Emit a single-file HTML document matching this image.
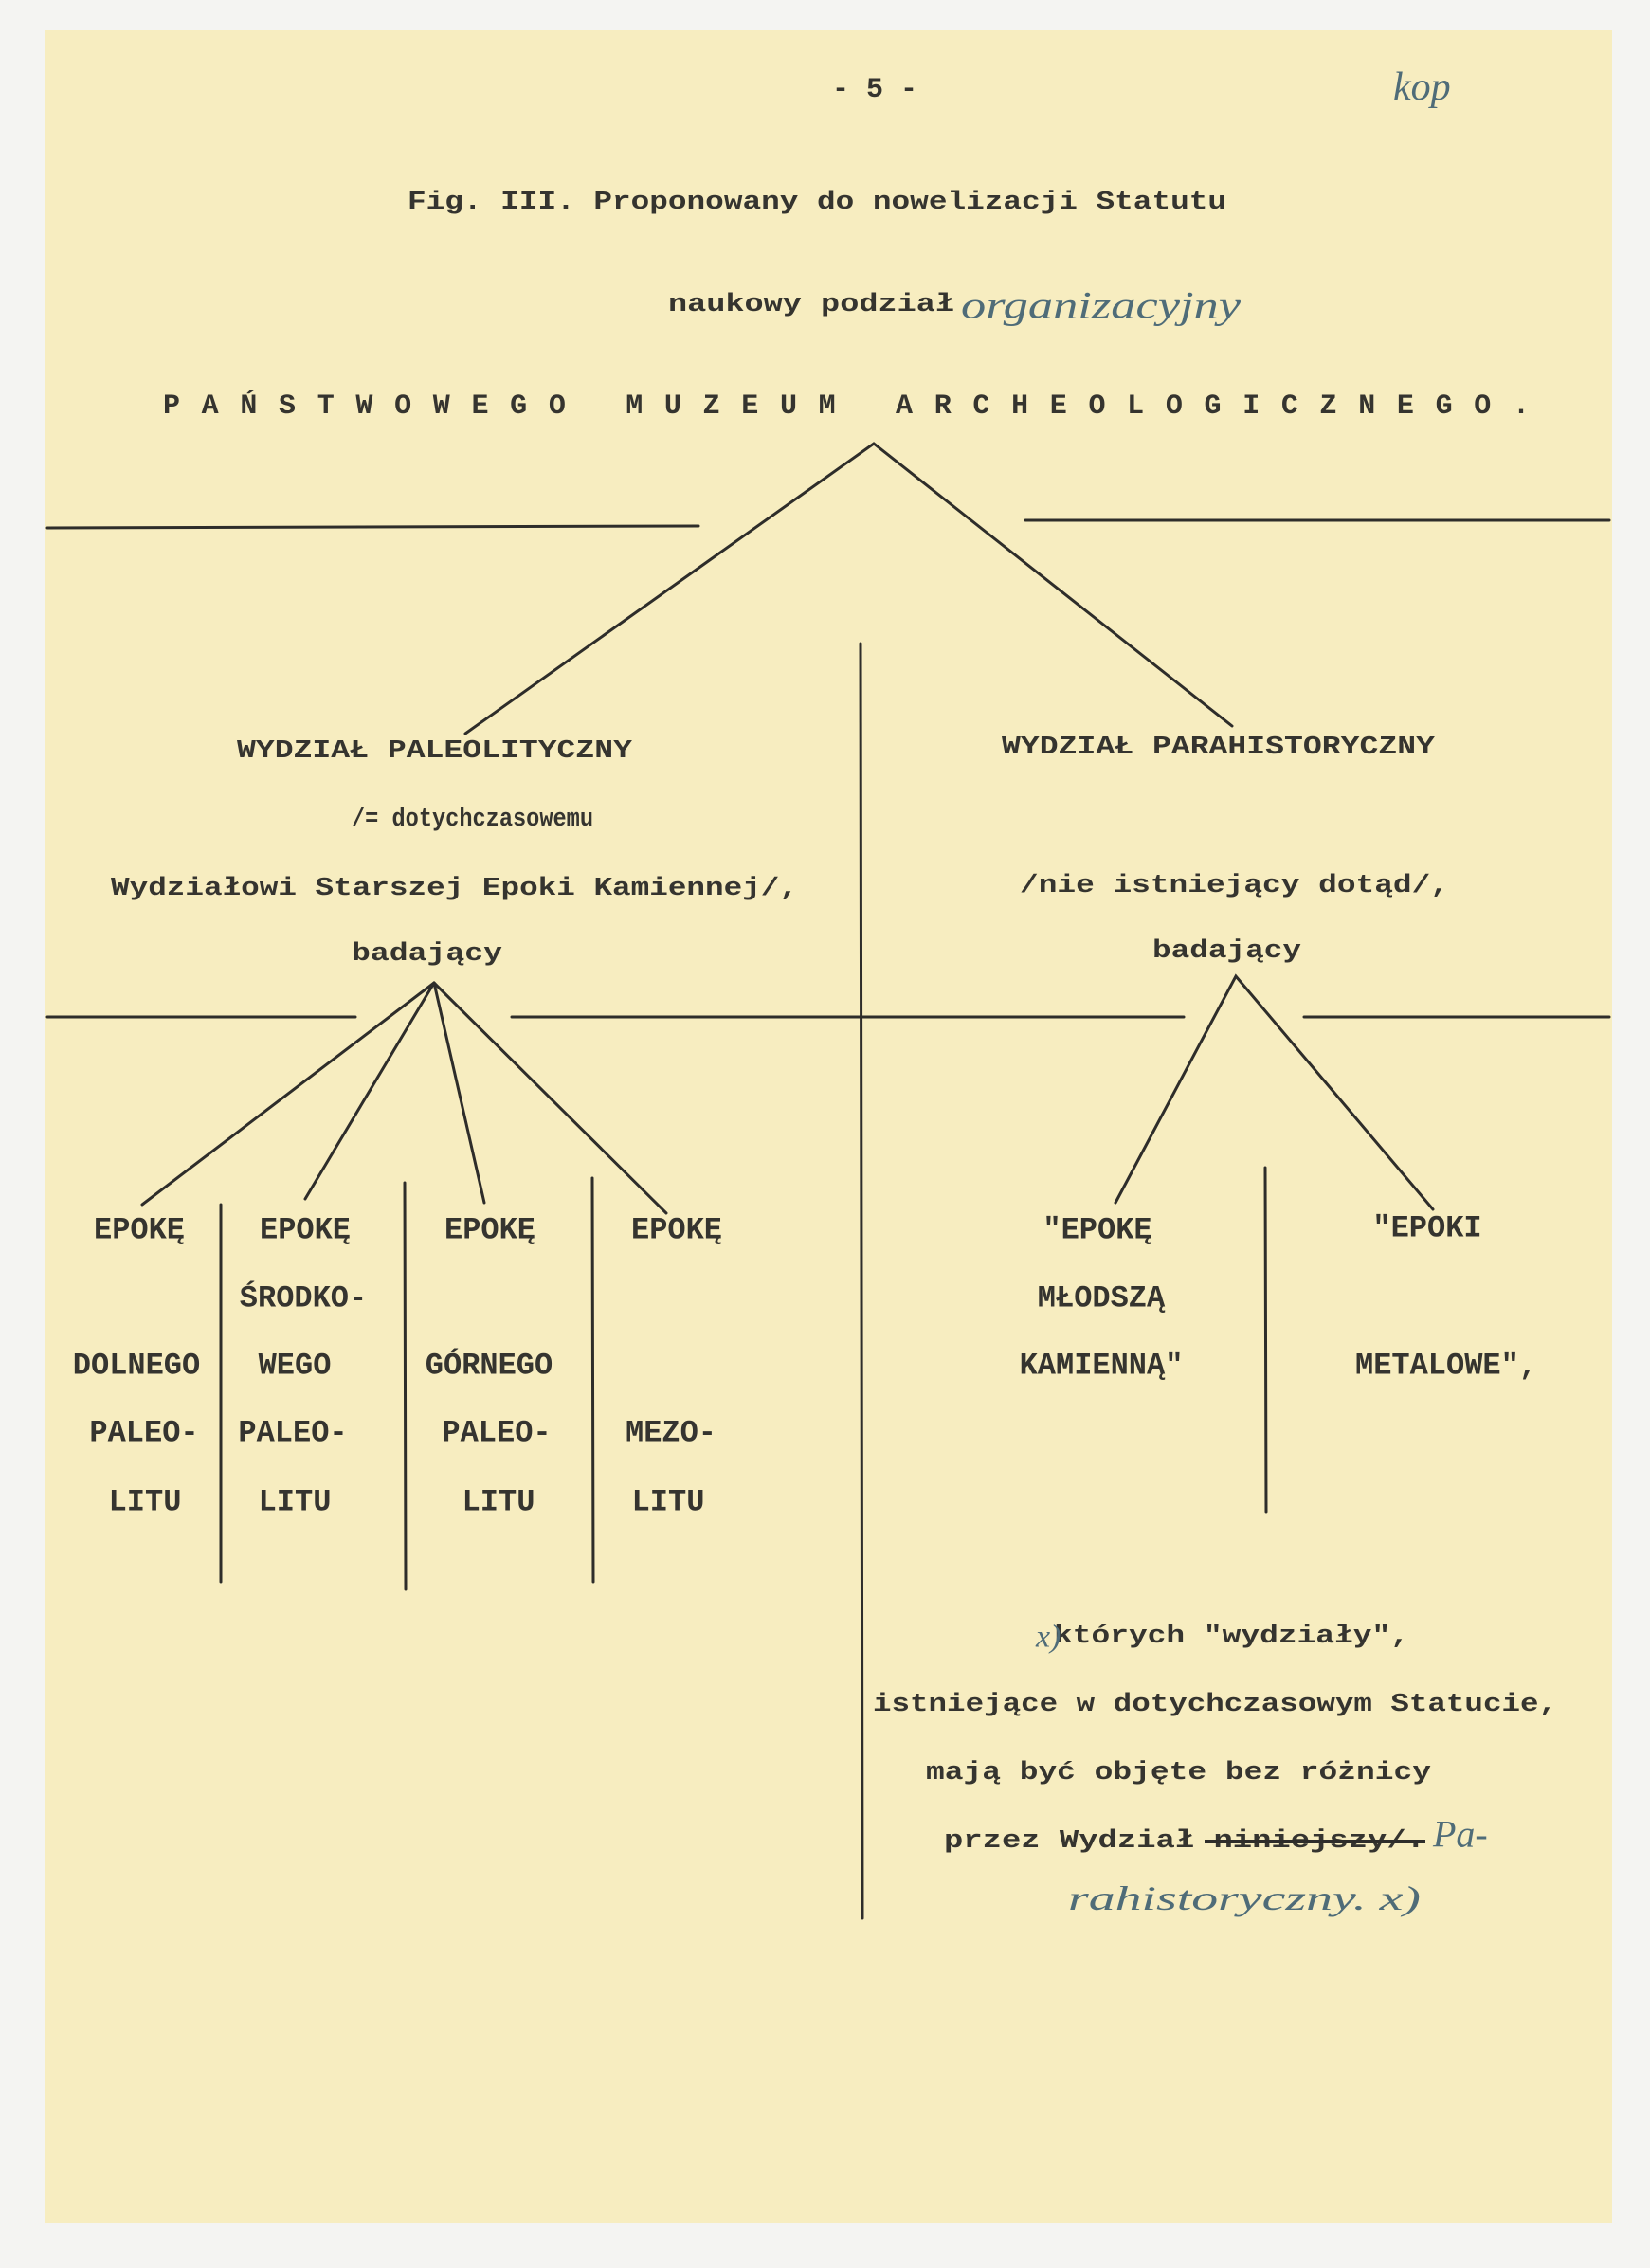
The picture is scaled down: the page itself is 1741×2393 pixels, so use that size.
<!DOCTYPE html>
<html><head><meta charset="utf-8"><style>
html,body{margin:0;padding:0;background:#f3f3f1;}
svg{display:block;}
.t{font-family:"Liberation Mono",monospace;font-weight:bold;fill:#35342f;dominant-baseline:central;}
.h{font-family:"Liberation Serif",serif;font-style:italic;fill:#4f6c78;dominant-baseline:central;}
</style></head><body>
<svg width="1741" height="2393" viewBox="0 0 1741 2393" xmlns="http://www.w3.org/2000/svg">
<rect x="0" y="0" width="1741" height="2393" fill="#f4f4f2"/>
<rect x="48" y="32" width="1653" height="2313" fill="#f7edc0"/>
<g stroke="#2e2d2a" stroke-width="3" fill="none" stroke-linecap="round">
<polyline points="491,774 922,468 1300,766"/>
<line x1="50" y1="557" x2="737" y2="555"/>
<line x1="1082" y1="549" x2="1698" y2="549"/>
<line x1="908" y1="679" x2="910" y2="2024"/>
<line x1="50" y1="1073" x2="375" y2="1073"/>
<line x1="540" y1="1073" x2="1249" y2="1073"/>
<line x1="1376" y1="1073" x2="1698" y2="1073"/>
<line x1="458" y1="1037" x2="150" y2="1271"/>
<line x1="458" y1="1037" x2="322" y2="1265"/>
<line x1="458" y1="1037" x2="511" y2="1269"/>
<line x1="458" y1="1037" x2="703" y2="1280"/>
<polyline points="1177,1269 1304,1030 1512,1276"/>
<line x1="233" y1="1271" x2="233" y2="1669"/>
<line x1="427" y1="1248" x2="428" y2="1677"/>
<line x1="625" y1="1243" x2="626" y2="1669"/>
<line x1="1335" y1="1232" x2="1336" y2="1595"/>
</g>
<text class="t" x="923" y="95" font-size="30" text-anchor="middle">- 5 -</text>
<text class="h" x="1470" y="92" font-size="42">kop</text>
<text class="t" x="430" y="214" font-size="27" textLength="864" lengthAdjust="spacingAndGlyphs">Fig. III. Proponowany do nowelizacji Statutu</text>
<text class="t" x="705" y="322" font-size="27" textLength="302" lengthAdjust="spacingAndGlyphs">naukowy podział</text>
<text class="h" x="1014" y="322" font-size="40" textLength="295" lengthAdjust="spacingAndGlyphs">organizacyjny</text>
<text class="t" x="172" y="429" font-size="30" textLength="1442" lengthAdjust="spacing" style="white-space:pre" xml:space="preserve">P A Ń S T W O W E G O   M U Z E U M   A R C H E O L O G I C Z N E G O .</text>
<g class="t" font-size="27">
<text x="250" y="793" textLength="417" lengthAdjust="spacingAndGlyphs">WYDZIAŁ PALEOLITYCZNY</text>
<text x="371" y="865" textLength="255" lengthAdjust="spacingAndGlyphs">/= dotychczasowemu</text>
<text x="117" y="938" textLength="725" lengthAdjust="spacingAndGlyphs">Wydziałowi Starszej Epoki Kamiennej/,</text>
<text x="371" y="1007" textLength="159" lengthAdjust="spacingAndGlyphs">badający</text>
<text x="1057" y="789" textLength="457" lengthAdjust="spacingAndGlyphs">WYDZIAŁ PARAHISTORYCZNY</text>
<text x="1076" y="935" textLength="453" lengthAdjust="spacingAndGlyphs">/nie istniejący dotąd/,</text>
<text x="1216" y="1004" textLength="157" lengthAdjust="spacingAndGlyphs">badający</text>
</g>
<g class="t" font-size="32" text-anchor="middle">
<text x="147" y="1298">EPOKĘ</text>
<text x="144" y="1441">DOLNEGO</text>
<text x="152" y="1512">PALEO-</text>
<text x="153" y="1585">LITU</text>
<text x="322" y="1298">EPOKĘ</text>
<text x="320" y="1370">ŚRODKO-</text>
<text x="311" y="1441">WEGO</text>
<text x="309" y="1512">PALEO-</text>
<text x="311" y="1585">LITU</text>
<text x="517" y="1298">EPOKĘ</text>
<text x="516" y="1441">GÓRNEGO</text>
<text x="524" y="1512">PALEO-</text>
<text x="526" y="1585">LITU</text>
<text x="714" y="1298">EPOKĘ</text>
<text x="708" y="1512">MEZO-</text>
<text x="705" y="1585">LITU</text>
<text x="1158" y="1298">"EPOKĘ</text>
<text x="1162" y="1370">MŁODSZĄ</text>
<text x="1162" y="1441">KAMIENNĄ"</text>
<text x="1506" y="1296">"EPOKI</text>
<text x="1526" y="1441">METALOWE",</text>
</g>
<g class="t" font-size="27">
<text x="1112" y="1727" textLength="375" lengthAdjust="spacingAndGlyphs">których "wydziały",</text>
<text x="921" y="1799" textLength="722" lengthAdjust="spacingAndGlyphs">istniejące w dotychczasowym Statucie,</text>
<text x="977" y="1871" textLength="533" lengthAdjust="spacingAndGlyphs">mają być objęte bez różnicy</text>
<text x="996" y="1943" textLength="508" lengthAdjust="spacingAndGlyphs">przez Wydział niniejszy/.</text>
</g>
<line x1="1271" y1="1943" x2="1504" y2="1943" stroke="#2e2d2a" stroke-width="4"/>
<text class="h" x="1093" y="1727" font-size="34">x)</text>
<text class="h" x="1512" y="1935" font-size="40">Pa-</text>
<text class="h" x="1127" y="2003" font-size="36" textLength="372" lengthAdjust="spacingAndGlyphs">rahistoryczny. x)</text>
</svg>
</body></html>
